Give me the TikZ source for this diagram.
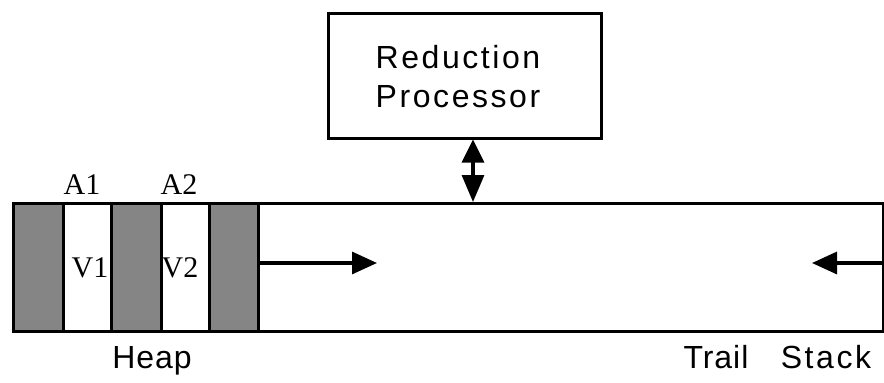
\documentclass[tikz,border=0pt]{standalone}
\usepackage{fontspec}
\setmainfont{Liberation Serif}
\newfontfamily\labelsans[LetterSpace=8]{Liberation Sans}
\newfontfamily\labelsanstight[LetterSpace=3]{Liberation Sans}
\usetikzlibrary{arrows.meta}
\begin{document}
\begin{tikzpicture}[x=1pt,y=-1pt,
  cell/.style={draw,line width=2.6pt,minimum height=128pt,inner sep=0pt,anchor=north west},
  shaded/.style={cell,fill=black!48},
  plain/.style={cell,fill=white},
  box/.style={draw,line width=2.6pt,fill=white,inner sep=0pt},
  sanslabel/.style={font=\labelsans\fontsize{32}{39}\selectfont,inner sep=0pt,align=center},
  tightlabel/.style={font=\labelsanstight\fontsize{32}{39}\selectfont,inner sep=0pt},
  seriflabel/.style={font=\fontsize{30}{34}\selectfont,inner sep=0pt},
  arr/.style={line width=3.2pt,-{Triangle[length=25pt,width=22pt]}},
  darr/.style={line width=3.2pt,{Triangle[length=23pt,width=22pt]}-{Triangle[length=27pt,width=22pt]}}]
\useasboundingbox (0,0) rectangle (884,383);
% main memory area
\node[box,minimum width=870pt,minimum height=128pt,anchor=north west] (mem) at (12,202) {};
\node[shaded,minimum width=50pt] (c1) at (12,202) {};
\node[plain,minimum width=48pt] (w1) at (62,202) {};
\node[shaded,minimum width=50pt] (c2) at (110,202) {};
\node[plain,minimum width=48pt] (w2) at (160,202) {};
\node[shaded,minimum width=49pt] (c3) at (208,202) {};
% processor
\node[box,minimum width=273pt,minimum height=125pt,anchor=north west] (proc) at (327,12) {};
\node[sanslabel] (ptext) at (458,77) {Reduction\\Processor};
% labels
\node[seriflabel] (a1) at (82,185) {A1};
\node[seriflabel] (a2) at (179,185) {A2};
\node[seriflabel] (v1) at (90,268) {V1};
\node[seriflabel] (v2) at (180,268) {V2};
\node[tightlabel] (heap) at (152,361) {Heap};
\node[tightlabel] (trail) at (716,357) {Trail};
\node[sanslabel] (stack) at (826,357) {Stack};
% arrows
\coordinate (rtip) at (377,263);
\coordinate (ltip) at (812,263);
\draw[arr] (c3.east |- rtip) -- (rtip);
\draw[arr] (mem.east |- ltip) -- (ltip);
\draw[darr] (proc.south -| 473,0) -- (mem.north -| 473,0);
\end{tikzpicture}
\end{document}
